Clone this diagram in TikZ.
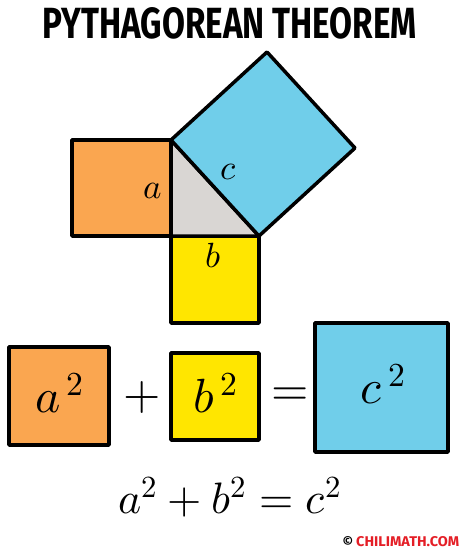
\documentclass[tikz,border=0pt]{standalone}
\usepackage{fontspec}
\usepackage{unicode-math}
\setmainfont{Fira Sans}
\setmathfont{Latin Modern Math}
\definecolor{sqorange}{RGB}{250,166,80}
\definecolor{sqyellow}{RGB}{255,230,0}
\definecolor{sqblue}{RGB}{112,206,234}
\definecolor{trigray}{RGB}{217,214,211}
\definecolor{chired}{RGB}{228,30,38}
\tikzset{
  shapeline/.style={draw=black, line width=3.5pt, line join=round},
  eqbox/.style={shapeline, rectangle, inner sep=0pt},
  lbl/.style={inner sep=0pt, font=\fontsize{35}{35}\selectfont},
  biglbl/.style={inner sep=0pt, font=\fontsize{48}{48}\selectfont},
}
\begin{document}
\begin{tikzpicture}[x=1pt,y=-1pt]
\useasboundingbox (0,0) rectangle (474,560);
% title
\node[inner sep=0pt] (title) at (230,23.5) {\resizebox{374pt}{31pt}{\bfseries PYTHAGOREAN THEOREM}};
% triangle and squares
\coordinate (A) at (171,140);
\coordinate (C) at (171,236);
\coordinate (B) at (259,236);
\coordinate (D) at (355,148);
\coordinate (E) at (267,52);
\filldraw[shapeline, fill=sqorange] (72,140) rectangle (C);
\filldraw[shapeline, fill=sqyellow] (C) rectangle (259,323);
\filldraw[shapeline, fill=trigray] (A) -- (C) -- (B) -- cycle;
\filldraw[shapeline, fill=sqblue] (A) -- (B) -- (D) -- (E) -- cycle;
\node[lbl] (la) at (153,191) {$a$};
\node[lbl] (lc) at (229,172) {$c$};
\node[lbl] (lb) at (213,256) {$b$};
% equation boxes
\node[eqbox, fill=sqorange, minimum width=100pt, minimum height=98pt] (sqa) at (59,396) {};
\node[eqbox, fill=sqyellow, minimum width=88pt, minimum height=87pt] (sqb) at (215,396.5) {};
\node[eqbox, fill=sqblue, minimum width=133pt, minimum height=129pt] (sqc) at (381.5,387.5) {};
\node[biglbl] (ta) at (60,393) {$a^{\,2}$};
\node[biglbl] (tb) at (216,393) {$b^{\,2}$};
\node[biglbl] (tc) at (383,384) {$c^{\,2}$};
\node[biglbl] (plus) at (142,397) {$+$};
\node[biglbl] (eq) at (290,397) {$=$};
% formula
\node[inner sep=0pt, font=\fontsize{44}{44}\selectfont] (formula) at (230,497) {$a^2+b^2=c^2$};
% credit
\node[inner sep=0pt, font=\fontsize{13}{13}\selectfont\bfseries] (copy) at (348,542) {©};
\node[inner sep=0pt, text=chired, anchor=west] (credit) at (356,542) {\resizebox{103pt}{10pt}{\bfseries CHILIMATH.COM}};
\end{tikzpicture}
\end{document}
